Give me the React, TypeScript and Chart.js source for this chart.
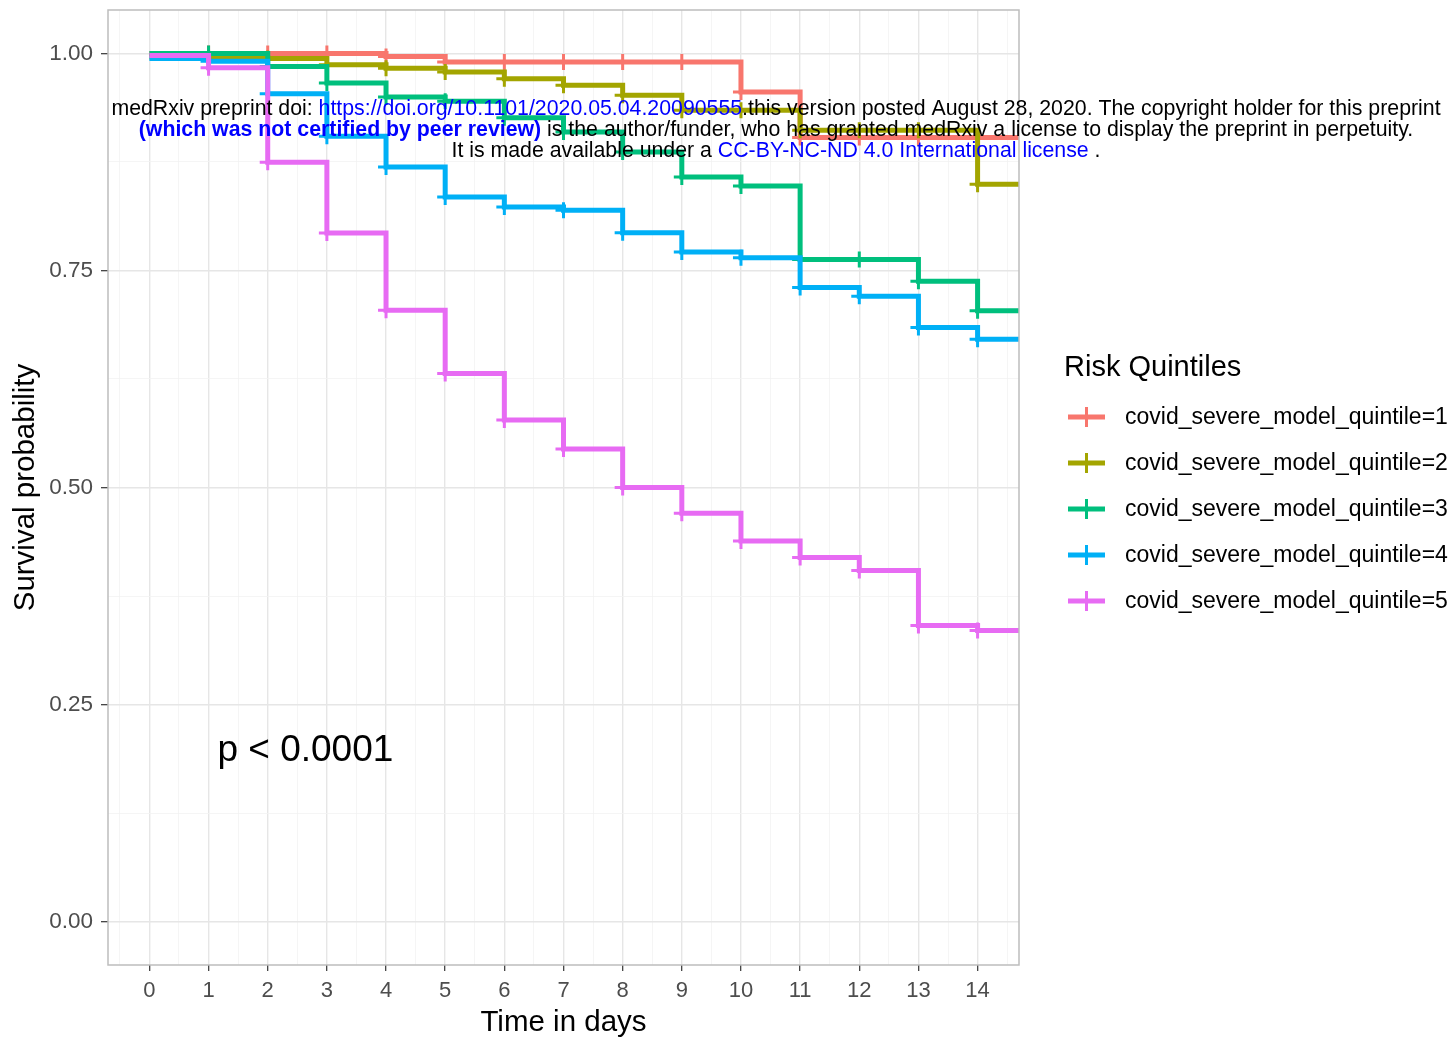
import React, { useEffect, useRef } from 'react';
import { Chart, registerables } from 'chart.js';

Chart.register(...registerables);

// ---------------- data ----------------
const days = [0, 1, 2, 3, 4, 5, 6, 7, 8, 9, 10, 11, 12, 13, 14];
const xMajorTicks = [0, 1, 2, 3, 4, 5, 6, 7, 8, 9, 10, 11, 12, 13, 14];
const xMinorTicks = [-0.5, 0.5, 1.5, 2.5, 3.5, 4.5, 5.5, 6.5, 7.5, 8.5, 9.5, 10.5, 11.5, 12.5, 13.5, 14.5];
const yMajorTicks = [0, 0.25, 0.5, 0.75, 1.0];
const yMinorTicks = [0.125, 0.375, 0.625, 0.875];
const X_MIN = -0.7;
const X_MAX = 14.7;
const Y_MIN = -0.05;
const Y_MAX = 1.05;

const seriesLabels = [
  'covid_severe_model_quintile=1',
  'covid_severe_model_quintile=2',
  'covid_severe_model_quintile=3',
  'covid_severe_model_quintile=4',
  'covid_severe_model_quintile=5',
];
const quintile1 = [1.0, 1.0, 1.0, 1.0, 0.9965, 0.99, 0.99, 0.99, 0.99, 0.99, 0.9555, 0.903, 0.903, 0.903, 0.903];
const quintile2 = [0.996, 0.995, 0.994, 0.987, 0.983, 0.9785, 0.9709, 0.9632, 0.9517, 0.9344, 0.9344, 0.9114, 0.9114, 0.9114, 0.8493];
const quintile3 = [1.0, 1.0, 0.985, 0.9659, 0.9497, 0.9448, 0.926, 0.9095, 0.8865, 0.8577, 0.8473, 0.7626, 0.7626, 0.7376, 0.7035];
const quintile4 = [0.994, 0.991, 0.9536, 0.9045, 0.8692, 0.8347, 0.8231, 0.8193, 0.7933, 0.7714, 0.7645, 0.7304, 0.7204, 0.6843, 0.6709];
const quintile5 = [0.9977, 0.9835, 0.8746, 0.7932, 0.7043, 0.6314, 0.5777, 0.5443, 0.4999, 0.4703, 0.4384, 0.4193, 0.4043, 0.341, 0.3352];
const seriesValues = [quintile1, quintile2, quintile3, quintile4, quintile5];
const seriesColors = ['#F8766D', '#A3A500', '#00BF7D', '#00B0F6', '#E76BF3'];

const legendTitle = 'Risk Quintiles';
const pValueText = 'p < 0.0001';
const xTitle = 'Time in days';
const yTitle = 'Survival probability';

// watermark segments: [text, color, bold]
const watermarkLines: [string, string, boolean][][] = [
  [
    ['medRxiv preprint doi: ', '#000000', false],
    ['https://doi.org/10.1101/2020.05.04.20090555', '#0000FF', false],
    ['.this version posted August 28, 2020. The copyright holder for this preprint', '#000000', false],
  ],
  [
    ['(which was not certified by peer review)', '#0000FF', true],
    [' is the author/funder, who has granted medRxiv a license to display the preprint in perpetuity.', '#000000', false],
  ],
  [
    ['It is made available under a ', '#000000', false],
    ['CC-BY-NC-ND 4.0 International license', '#0000FF', false],
    [' .', '#000000', false],
  ],
];

const FONT = "'Liberation Sans', Arial, sans-serif";
const WM_SIZE = 21.3;

const isInt = (v: number) => Math.abs(v - Math.round(v)) < 1e-9;
const isYMajor = (v: number) => yMajorTicks.some((t) => Math.abs(t - v) < 1e-9);

const overlayPlugin = {
  id: 'overlay',
  afterDatasetsDraw(chart: any) {
    const { ctx, chartArea } = chart;
    ctx.save();
    ctx.strokeStyle = '#BDBDBD';
    ctx.lineWidth = 1.5;
    ctx.strokeRect(chartArea.left, chartArea.top, chartArea.right - chartArea.left, chartArea.bottom - chartArea.top);
    ctx.restore();
  },
  afterDraw(chart: any) {
    const { ctx, scales } = chart;
    ctx.save();
    // p-value annotation
    ctx.fillStyle = '#000000';
    ctx.font = `37px ${FONT}`;
    ctx.textAlign = 'left';
    ctx.textBaseline = 'middle';
    ctx.fillText(pValueText, scales.x.getPixelForValue(1.15), scales.y.getPixelForValue(0.197));

    // legend
    ctx.font = `29px ${FONT}`;
    ctx.textBaseline = 'middle';
    ctx.fillText(legendTitle, 1064, 368);
    seriesLabels.forEach((lab, i) => {
      const y = 417 + 46 * i;
      ctx.strokeStyle = seriesColors[i];
      ctx.lineWidth = 5;
      ctx.beginPath();
      ctx.moveTo(1068, y);
      ctx.lineTo(1105, y);
      ctx.stroke();
      ctx.lineWidth = 3;
      ctx.beginPath();
      ctx.moveTo(1086.5, y - 10);
      ctx.lineTo(1086.5, y + 10);
      ctx.stroke();
      ctx.fillStyle = '#000000';
      ctx.font = `23px ${FONT}`;
      ctx.fillText(lab, 1125, y + 1);
    });

    // watermark
    const baselines = [115, 136, 157];
    const centerX = 776;
    ctx.textBaseline = 'alphabetic';
    watermarkLines.forEach((segs, li) => {
      let total = 0;
      const widths = segs.map(([t, , b]) => {
        ctx.font = `${b ? 'bold ' : ''}${WM_SIZE}px ${FONT}`;
        const w = ctx.measureText(t).width;
        total += w;
        return w;
      });
      let x = centerX - total / 2;
      segs.forEach(([t, c, b], si) => {
        ctx.font = `${b ? 'bold ' : ''}${WM_SIZE}px ${FONT}`;
        ctx.fillStyle = c;
        ctx.fillText(t, x, baselines[li]);
        x += widths[si];
      });
    });
    ctx.restore();
  },
};

export default function App() {
  const ref = useRef<HTMLCanvasElement>(null);
  useEffect(() => {
    document.body.style.margin = '0';
    const datasets = seriesValues.map((vals, i) => ({
      label: seriesLabels[i],
      data: [
        ...days.map((d, j) => ({ x: d, y: vals[j] })),
        { x: X_MAX, y: vals[vals.length - 1] },
      ],
      borderColor: seriesColors[i],
      backgroundColor: seriesColors[i],
      pointBorderColor: seriesColors[i],
      borderWidth: 5,
      stepped: 'before' as const,
      borderJoinStyle: 'miter' as const,
      borderCapStyle: 'butt' as const,
      pointStyle: 'cross' as const,
      pointRadius: (c: any) => (c.dataIndex === 0 || c.dataIndex >= days.length ? 0 : 8),
      pointHoverRadius: 0,
      pointBorderWidth: 3,
      fill: false,
      order: seriesValues.length - 1 - i,
    }));

    const chart = new Chart(ref.current!, {
      type: 'line',
      data: { datasets },
      options: {
        animation: false,
        responsive: false,
        devicePixelRatio: 1,
        events: [],
        layout: { padding: { top: 10, right: 431, bottom: 0, left: 0 } },
        plugins: { legend: { display: false }, tooltip: { enabled: false } },
        scales: {
          x: {
            type: 'linear',
            min: X_MIN,
            max: X_MAX,
            afterBuildTicks: (scale: any) => {
              scale.ticks = [...xMajorTicks, ...xMinorTicks].sort((a, b) => a - b).map((v) => ({ value: v }));
            },
            afterFit: (scale: any) => {
              scale.height = 72;
              scale.paddingLeft = 0;
              scale.paddingRight = 0;
            },
            ticks: {
              autoSkip: false,
              maxRotation: 0,
              padding: 7,
              color: '#4D4D4D',
              font: { family: FONT, size: 22 },
              callback: (v: any) => (isInt(Number(v)) ? String(Math.round(Number(v))) : ''),
            },
            grid: {
              color: (c: any) => (isInt(c.tick.value) ? '#E6E6E6' : '#F3F3F3'),
              lineWidth: (c: any) => (isInt(c.tick.value) ? 1.4 : 0.8),
              tickColor: (c: any) => (isInt(c.tick.value) ? '#333333' : 'rgba(0,0,0,0)'),
              tickLength: 6,
              tickWidth: 1.2,
              drawTicks: true,
            },
            border: { display: false },
            title: {
              display: true,
              text: xTitle,
              color: '#000000',
              font: { family: FONT, size: 29.5 },
              padding: { top: 0, bottom: -4 },
            },
          },
          y: {
            type: 'linear',
            min: Y_MIN,
            max: Y_MAX,
            afterBuildTicks: (scale: any) => {
              scale.ticks = [...yMajorTicks, ...yMinorTicks].sort((a, b) => a - b).map((v) => ({ value: v }));
            },
            afterFit: (scale: any) => {
              scale.width = 108;
              scale.paddingTop = 0;
              scale.paddingBottom = 0;
            },
            ticks: {
              autoSkip: false,
              padding: 8,
              color: '#4D4D4D',
              font: { family: FONT, size: 22.5 },
              callback: (v: any) => (isYMajor(Number(v)) ? Number(v).toFixed(2) : ''),
            },
            grid: {
              color: (c: any) => (isYMajor(c.tick.value) ? '#E6E6E6' : '#F3F3F3'),
              lineWidth: (c: any) => (isYMajor(c.tick.value) ? 1.4 : 0.8),
              tickColor: (c: any) => (isYMajor(c.tick.value) ? '#333333' : 'rgba(0,0,0,0)'),
              tickLength: 7,
              tickWidth: 1.2,
              drawTicks: true,
            },
            border: { display: false },
            title: {
              display: true,
              text: yTitle,
              color: '#000000',
              font: { family: FONT, size: 29.5 },
              padding: { top: 8, bottom: 0 },
            },
          },
        },
      },
      plugins: [overlayPlugin],
    } as any);
    return () => chart.destroy();
  }, []);
  return (
    <div style={{ width: 1450, height: 1037 }}>
      <canvas ref={ref} width={1450} height={1037} style={{ display: 'block' }} />
    </div>
  );
}
